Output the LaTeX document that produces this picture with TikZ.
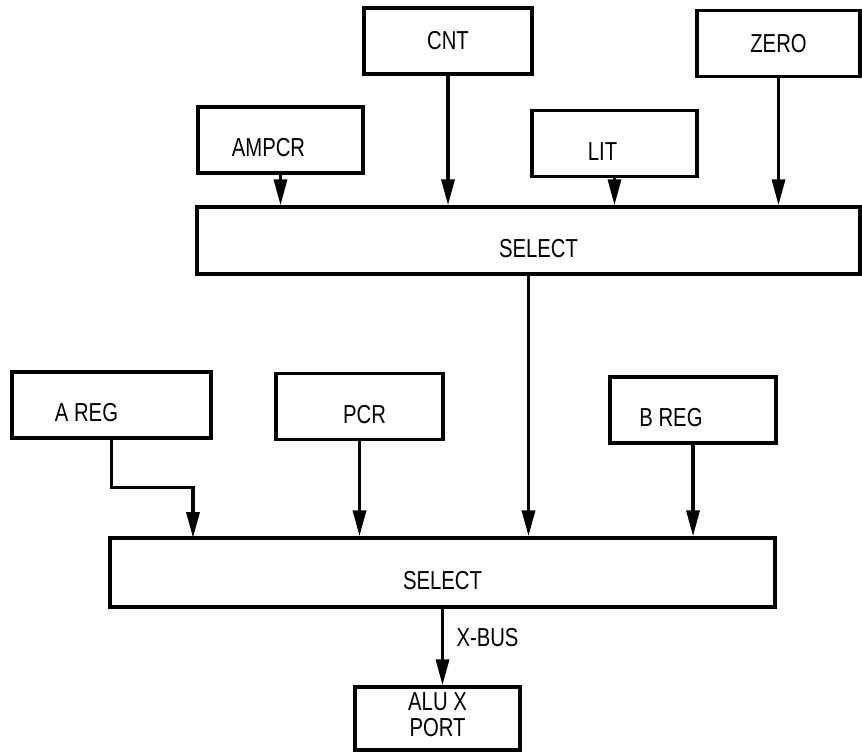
\documentclass[tikz,border=0pt]{standalone}
\usepackage{fontspec}
\setmainfont{Liberation Sans}
\usepackage{graphicx}
\usetikzlibrary{arrows.meta,positioning,calc}
\newcommand{\nt}[1]{\scalebox{0.78}[1]{#1}}

\begin{document}
\begin{tikzpicture}[x=1pt,y=-1pt,
  blk/.style={draw,line width=3.4pt,minimum height=66pt,inner sep=0pt,font=\fontsize{26}{26}\selectfont},
  low/.style={text height=33pt,text depth=0pt},
  flow/.style={line width=3.4pt,-{Triangle[length=26pt,width=13pt]}}]
  \useasboundingbox (0,0) rectangle (862,752);
  % source boxes, top row
  \node[blk,minimum width=168pt] (cnt) at (448,41) {\nt{CNT}};
  \node[blk,minimum width=163pt] (zero) at (778.5,43.5) {\nt{ZERO}};
  \node[blk,low,minimum width=165pt] (ampcr) at (280.5,140) {\nt{AMPCR}\hspace*{24pt}};
  \node[blk,low,minimum width=165pt] (lit) at (614.5,143.5) {\nt{LIT}\hspace*{24pt}};
  \node[blk,low,minimum width=663pt,minimum height=67pt] (sel1) at (528.5,240.5) {\nt{SELECT}\hspace*{-20pt}};
  % registers
  \node[blk,low,minimum width=199pt] (areg) at (111.5,405) {\nt{A REG}\hspace*{50pt}};
  \node[blk,low,minimum width=167pt] (pcr) at (359.5,406.5) {\hspace*{10pt}\nt{PCR}};
  \node[blk,low,minimum width=166pt] (breg) at (693,410) {\nt{B REG}\hspace*{44pt}};
  \node[blk,low,minimum width=665pt,minimum height=69pt] (sel2) at (442.5,572.5) {\nt{SELECT}};
  \node[blk,minimum width=165pt,minimum height=63pt] (alu) at (437.5,718.5)
    {\nt{\begin{tabular}{@{}c@{}}ALU X\\PORT\end{tabular}}};
  % connectors
  \foreach \a/\b in {ampcr/sel1,cnt/sel1,lit/sel1,zero/sel1,sel1/sel2,pcr/sel2,breg/sel2,sel2/alu}{\draw[flow] (\a.south) -- (\a.south |- \b.north);}
  \coordinate (ain) at (193,538);
  \draw[flow] (areg.south) -- ++(0,48) -| (ain);
  \node[anchor=west,font=\fontsize{26}{26}\selectfont] (xbus) at (453,638) {\nt{X-BUS}};
\end{tikzpicture}
\end{document}
